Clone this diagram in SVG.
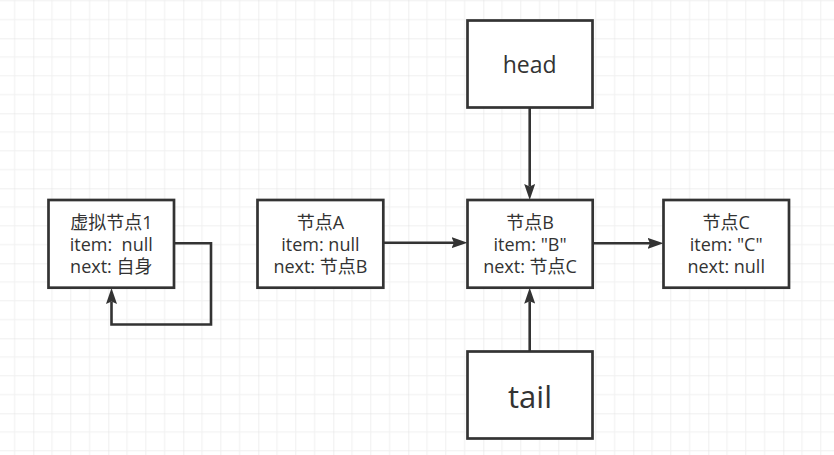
<svg xmlns="http://www.w3.org/2000/svg" width="834" height="455" viewBox="0 0 834 455">
<defs>
<pattern id="grid" patternUnits="userSpaceOnUse" x="33.3" y="38.3" width="75" height="75">
<path d="M18.75,0V75M37.5,0V75M56.25,0V75M0,18.75H75M0,37.5H75M0,56.25H75" fill="none" stroke="#f0f0f0" stroke-width="1"/>
<path d="M0,0V75M0,0H75" fill="none" stroke="#e0e0e0" stroke-width="1"/>
</pattern>
<marker id="arr" viewBox="0 0 16 11" refX="2.5" refY="5.5" markerWidth="16" markerHeight="11" markerUnits="userSpaceOnUse" orient="auto">
<path d="M0,0 L16,5.5 L0,11 L2.5,5.5 Z" fill="#333333"/>
</marker>
<style>
.box{fill:#ffffff;stroke:#333333;stroke-width:2.7}
.t{font-family:"Open Sans","Noto Sans CJK SC",sans-serif;font-size:18px;fill:#333333;text-anchor:middle;white-space:pre}
.big{font-family:"Open Sans","Noto Sans CJK SC",sans-serif;fill:#333333;text-anchor:middle}
.edge{fill:none;stroke:#333333;stroke-width:2.6}
</style>
</defs>
<rect x="0" y="0" width="834" height="455" fill="#ffffff"/>
<rect x="0" y="0" width="834" height="455" fill="url(#grid)"/>
<g id="connectors">
<path class="edge" d="M174,243.3H211V324.5H111.5V301.5" marker-end="url(#arr)"/>
<path class="edge" d="M383.3,242.7H454" marker-end="url(#arr)"/>
<path class="edge" d="M592.7,243.3H650" marker-end="url(#arr)"/>
<path class="edge" d="M529.7,107.5V186.5" marker-end="url(#arr)"/>
<path class="edge" d="M529.7,351.5V301.2" marker-end="url(#arr)"/>
</g>
<g id="node-virtual">
<rect class="box" x="48.5" y="200" width="125.5" height="87.7"/>
<text class="t" x="111.3" y="229">虚拟节点1</text>
<text class="t" x="111.3" y="251.2" xml:space="preserve">item:  null</text>
<text class="t" x="111.3" y="273.3">next: 自身</text>
</g>
<g id="node-a">
<rect class="box" x="257.5" y="200" width="125.8" height="87.7"/>
<text class="t" x="320.4" y="228.8">节点A</text>
<text class="t" x="320.4" y="251">item: null</text>
<text class="t" x="320.4" y="273.2">next: 节点B</text>
</g>
<g id="node-b">
<rect class="box" x="467.5" y="200" width="125.2" height="87.7"/>
<text class="t" x="530.1" y="228.8">节点B</text>
<text class="t" x="530.1" y="251">item: "B"</text>
<text class="t" x="530.1" y="273.2">next: 节点C</text>
</g>
<g id="node-c">
<rect class="box" x="663.5" y="200" width="125.5" height="87.7"/>
<text class="t" x="726.2" y="228.8">节点C</text>
<text class="t" x="726.2" y="251">item: "C"</text>
<text class="t" x="726.2" y="273.2">next: null</text>
</g>
<g id="node-head">
<rect class="box" x="467.5" y="20.5" width="125" height="87"/>
<text class="big" x="529.7" y="72.5" font-size="23px">head</text>
</g>
<g id="node-tail">
<rect class="box" x="467.5" y="351.5" width="125" height="87"/>
<text class="big" x="530" y="408.3" font-size="31px">tail</text>
</g>
</svg>
